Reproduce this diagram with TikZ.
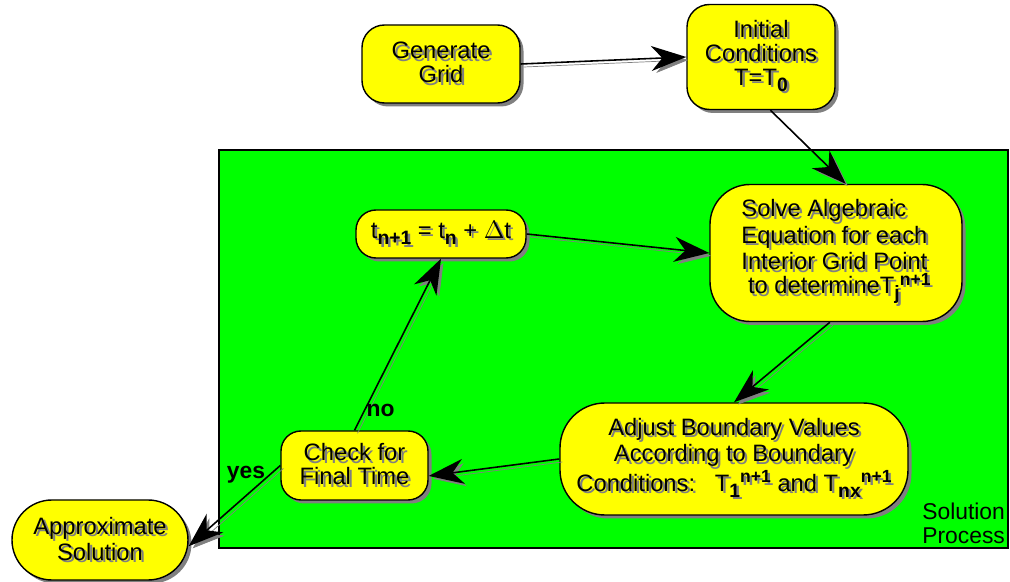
\documentclass[tikz,border=0pt]{standalone}
\usepackage{fontspec}
\setmainfont{Liberation Sans}
\usetikzlibrary{positioning,arrows.meta,shadows}
\definecolor{boxyellow}{RGB}{255,255,0}
\definecolor{procgreen}{RGB}{0,255,0}
\newcommand{\sh}[1]{\makebox[0pt][l]{\hspace{0.05cm}\raisebox{-0.05cm}{\color{gray}#1}}#1}
\newcommand{\lo}[1]{\raisebox{-0.5ex}{\bfseries\fontsize{11}{11}\selectfont #1}}
\newcommand{\hi}[1]{\raisebox{0.65ex}{\bfseries\fontsize{10}{10}\selectfont #1}}
\newcommand{\boxfont}{\fontsize{13.5}{13.6}\selectfont}
\tikzset{stepbox/.style n args={3}{
    draw, thick, fill=boxyellow, align=center,
    minimum width=#1, minimum height=#2, rounded corners=#3,
    drop shadow={shadow xshift=0.07cm, shadow yshift=-0.07cm, fill=gray, opacity=1},
    font=\boxfont
    },
    flow/.style={
    -{Stealth[length=7mm,width=5mm,inset=2.2mm]}, line width=0.9pt,
    preaction={draw=gray, transform canvas={shift={(0.06cm,-0.06cm)}}}
    },
    flowtag/.style={font=\bfseries\fontsize{13}{13}\selectfont, inner sep=2pt}
}

\begin{document}
\begin{tikzpicture}
	\useasboundingbox (0,0) rectangle (20.2,-11.64);
	% solution process region
	\draw[fill=procgreen, thick] (4.38,-3.0) rectangle (20.16,-10.96);
	\node[anchor=south east, align=left, inner sep=1pt, font=\fontsize{13}{13.5}\selectfont] (proc) at (20.14,-10.92) {Solution\\Process};
	% steps
	\node[stepbox={3.16cm}{1.56cm}{0.45cm}] (gen) at (8.82,-1.28) {\sh{Generate}\\\sh{Grid}};
	\node[stepbox={2.96cm}{2.1cm}{0.45cm}] (init) at (15.22,-1.14) {\sh{Initial}\\\sh{Conditions}\\\sh{T=T\lo{0}}};
	\node[stepbox={3.4cm}{0.96cm}{0.4cm}] (tnext) at (8.82,-4.68) {\sh{t\lo{n+1} = t\lo{n} + $\Delta$t}};
	\node[stepbox={5.04cm}{2.74cm}{0.8cm}, align=left] (solve) at (16.72,-5.06) {\sh{Solve Algebraic}\\\sh{Equation for each}\\\sh{Interior Grid Point}\\\sh{\ to determineT\lo{j}\hi{n+1}}};
	\node[stepbox={6.96cm}{2.24cm}{0.9cm}] (adjust) at (14.68,-9.18) {\sh{Adjust Boundary Values}\\\sh{According to Boundary}\\\sh{Conditions:\ \ \ T\lo{1}\hi{n+1} and T\lo{nx}\hi{n+1}}};
	\node[stepbox={2.94cm}{1.38cm}{0.4cm}] (check) at (7.09,-9.31) {\sh{Check for}\\\sh{Final Time}};
	\node[stepbox={3.52cm}{1.6cm}{0.8cm}] (approx) at (2.0,-10.8) {\sh{Approximate}\\\sh{Solution}};
	% connectors
	\draw[flow] (gen.east) -- (init.west);
	\draw[flow] (init.-80) -- (solve.82);
	\draw[flow] (tnext.east) -- (solve.west);
	\draw[flow] (solve.-95) -- (adjust.north);
	\draw[flow] (adjust.west) -- (check.-8);
	\draw[flow] (check.north) -- node[pos=0.09, right, flowtag, yshift=0.08cm]{no} (tnext.south);
	\draw[flow] (check.west) -- node[pos=0.12, left, flowtag]{yes} (approx.-4);
\end{tikzpicture}
\end{document}
